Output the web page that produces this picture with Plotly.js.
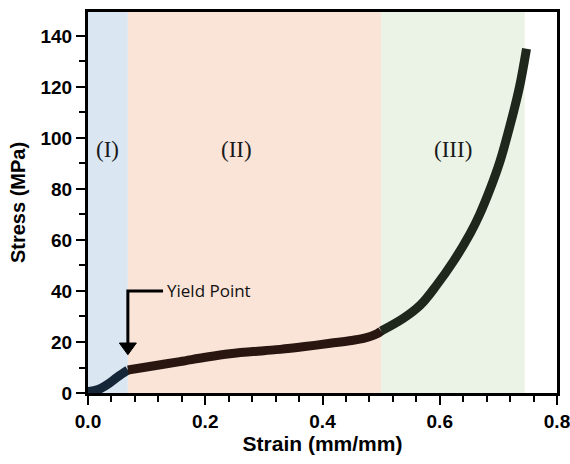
<!DOCTYPE html>
<html>
<head>
<meta charset="utf-8">
<script src="https://cdn.plot.ly/plotly-3.0.1.min.js"></script>
<style>html,body{margin:0;padding:0;background:#fff;}#chart{width:570px;height:464px;}</style>
</head>
<body>
<div id="chart"></div>
<script>
// Region I (elastic)
const strainI = [0.0, 0.012, 0.022, 0.035, 0.05, 0.068];
const stressI = [0.6, 1.0, 1.8, 3.6, 6.2, 9.0];
// Region II (plateau)
const strainII = [0.068, 0.1, 0.157, 0.2, 0.242, 0.3, 0.328, 0.37, 0.413, 0.45, 0.47, 0.493, 0.5];
const stressII = [9.0, 10.2, 12.3, 14.0, 15.4, 16.6, 17.1, 18.2, 19.5, 20.6, 21.4, 23.2, 24.3];
// Region III (densification)
const strainIII = [0.5, 0.538, 0.567, 0.595, 0.623, 0.652, 0.668, 0.686, 0.703, 0.72, 0.736, 0.748];
const stressIII = [24.3, 29.3, 34.5, 42.4, 51.5, 62.6, 70.0, 80.0, 91.0, 105.0, 120.0, 135.0];

const regionBounds = [0, 0.068, 0.5, 0.745];
const regionColors = ['#dbe6f3', '#fae3d7', '#ebf3e6'];
const regionLabels = ['(I)', '(II)', '(III)'];
const regionLabelX = [0.033, 0.254, 0.623];
const regionLabelY = 95.5;
const lineColors = ['#142638', '#2a1610', '#1f271d'];

const xTickVals = [0, 0.2, 0.4, 0.6, 0.8];
const xTickText = ['0.0', '0.2', '0.4', '0.6', '0.8'];
const yTickVals = [0, 20, 40, 60, 80, 100, 120, 140];

const yieldPoint = {x: 0.068, y: 9.0, label: 'Yield Point'};

const seg = (x, y, c) => ({
  x: x, y: y, type: 'scatter', mode: 'lines',
  line: {color: c, width: 9, shape: 'spline', smoothing: 1}, hoverinfo: 'skip', showlegend: false
});
const traces = [
  seg(strainI, stressI, lineColors[0]),
  seg(strainII, stressII, lineColors[1]),
  seg(strainIII, stressIII, lineColors[2])
];

const shapes = [];
for (let i = 0; i < 3; i++) {
  shapes.push({type: 'rect', xref: 'x', yref: 'paper', x0: regionBounds[i], x1: regionBounds[i+1],
    y0: 0, y1: 1, fillcolor: regionColors[i], line: {width: 0}, layer: 'below'});
}
// yield point callout: L-shaped line + arrow head
const bendY = 40, tipY = 15.0, lineEndX = 0.128;
shapes.push({type: 'path', xref: 'x', yref: 'y',
  path: `M ${lineEndX} ${bendY} L ${yieldPoint.x} ${bendY} L ${yieldPoint.x} ${tipY + 4}`,
  line: {color: '#000', width: 3}});
shapes.push({type: 'path', xref: 'x', yref: 'y',
  path: `M ${yieldPoint.x - 0.0145} ${tipY + 4.6} L ${yieldPoint.x + 0.0145} ${tipY + 4.6} L ${yieldPoint.x} ${tipY} Z`,
  fillcolor: '#000', line: {color: '#000', width: 1}});

const annotations = regionLabels.map((t, i) => ({
  x: regionLabelX[i], y: regionLabelY, xref: 'x', yref: 'y', text: t, showarrow: false,
  font: {family: 'Liberation Serif, Times New Roman, serif', size: 23, color: '#1a1a1a'}
}));
annotations.push({x: lineEndX + 0.004, y: bendY, xref: 'x', yref: 'y', text: yieldPoint.label,
  showarrow: false, xanchor: 'left', yanchor: 'middle',
  font: {family: 'Open Sans, Noto Sans, sans-serif', size: 17, color: '#111'}});

const axFont = {family: 'Liberation Sans, Arial, sans-serif', size: 19, color: '#000', weight: 'bold'};
const layout = {
  width: 570, height: 464,
  margin: {l: 88, r: 13, t: 12, b: 71},
  paper_bgcolor: '#fff', plot_bgcolor: '#fff',
  showlegend: false,
  xaxis: {
    range: [0, 0.8], tickvals: xTickVals, ticktext: xTickText,
    ticks: 'outside', ticklen: 9, tickwidth: 2, tickcolor: '#000', ticklabeloverflow: 'allow',
    minor: {dtick: 0.04, tick0: 0, ticks: 'outside', ticklen: 6, tickwidth: 2, tickcolor: '#000', showgrid: false},
    showline: true, linewidth: 3, linecolor: '#000', mirror: true,
    showgrid: false, zeroline: false, tickfont: axFont,
    title: {text: 'Strain (mm/mm)', font: {family: 'Liberation Sans, Arial, sans-serif', size: 21, color: '#000', weight: 'bold'}, standoff: 5}
  },
  yaxis: {
    range: [0, 149.4], tickvals: yTickVals,
    ticks: 'outside', ticklen: 9, tickwidth: 2, tickcolor: '#000',
    minor: {dtick: 10, tick0: 0, ticks: 'outside', ticklen: 6, tickwidth: 2, tickcolor: '#000', showgrid: false},
    showline: true, linewidth: 3, linecolor: '#000', mirror: true,
    showgrid: false, zeroline: false, tickfont: axFont,
    title: {text: 'Stress (MPa)', font: {family: 'Liberation Sans, Arial, sans-serif', size: 20, color: '#000', weight: 'bold'}, standoff: 10}
  },
  shapes: shapes,
  annotations: annotations
};
Plotly.newPlot('chart', traces, layout, {staticPlot: true, displayModeBar: false});
</script>
</body>
</html>
